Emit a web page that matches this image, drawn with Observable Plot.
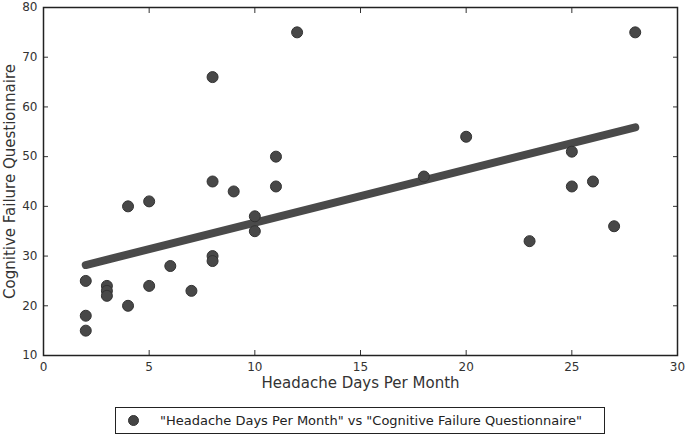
<!DOCTYPE html>
<html>
<head>
<meta charset="utf-8">
<script src="https://cdn.jsdelivr.net/npm/d3@7"></script>
<script src="https://cdn.jsdelivr.net/npm/@observablehq/plot@0.6"></script>
<style>
  html, body { margin: 0; padding: 0; background: #fff; }
  body { width: 685px; height: 440px; overflow: hidden; font-family: "DejaVu Sans", sans-serif; }
  #legend {
    position: absolute; left: 115px; top: 407px; width: 490px; height: 27px;
    border: 1.5px solid #222; box-sizing: border-box;
    display: flex; align-items: center; font-size: 13px; color: #222;
  }
  #legend .dot { width: 11px; height: 11px; border-radius: 50%; background: #444; border: 1px solid #333; margin-left: 12px; margin-right: 21px; box-sizing: border-box; }
</style>
</head>
<body>
<div id="chart"></div>
<div id="legend"><span class="dot"></span><span>"Headache Days Per Month" vs "Cognitive Failure Questionnaire"</span></div>
<script>
const headacheDays = [2, 2, 2, 3, 3, 3, 4, 4, 5, 5, 6, 7, 8, 8, 8, 8, 9, 10, 10, 11, 11, 12, 18, 20, 23, 25, 25, 26, 27, 28];
const cfqScores   = [25, 18, 15, 24, 23, 22, 40, 20, 41, 24, 28, 23, 66, 45, 30, 29, 43, 38, 35, 50, 44, 75, 46, 54, 33, 51, 44, 45, 36, 75];
const fitX = [2, 28];
const fitY = [28.2, 55.9];
const xTicks = [0, 5, 10, 15, 20, 25, 30];
const yTicks = [10, 20, 30, 40, 50, 60, 70, 80];

const points = headacheDays.map((d, i) => ({x: d, y: cfqScores[i]}));
const fit = fitX.map((d, i) => ({x: d, y: fitY[i]}));

const chart = Plot.plot({
  width: 685,
  height: 395,
  marginLeft: 43,
  marginRight: 8,
  marginTop: 7,
  marginBottom: 40,
  style: {fontFamily: "DejaVu Sans, sans-serif", fontSize: "12px", color: "#333", background: "#fff", overflow: "visible"},
  x: {domain: [0, 30]},
  y: {domain: [10, 80]},
  marks: [
    Plot.axisX(xTicks, {anchor: "bottom", tickSize: -5, tickPadding: 12, label: null, fontSize: 12, fill: "#333"}),
    Plot.axisX(xTicks, {anchor: "top", tickSize: -5, text: null, label: null}),
    Plot.axisY(yTicks, {anchor: "left", tickSize: -5, tickPadding: 11, label: null, fontSize: 12, fill: "#333"}),
    Plot.axisY(yTicks, {anchor: "right", tickSize: -5, text: null, label: null}),
    Plot.text(["Headache Days Per Month"], {frameAnchor: "bottom", dy: 32, fontSize: 15, fill: "#333"}),
    Plot.text(["Cognitive Failure Questionnaire"], {frameAnchor: "left", dx: -33, rotate: -90, textAnchor: "middle", fontSize: 15, fill: "#333"}),
    Plot.line(fit, {x: "x", y: "y", stroke: "#4a4a4a", strokeWidth: 8}),
    Plot.dot(points, {x: "x", y: "y", r: 5.5, fill: "#484848", stroke: "#333", strokeWidth: 1}),
    Plot.frame({stroke: "#222", strokeWidth: 1.5})
  ]
});
document.getElementById("chart").appendChild(chart);
</script>
</body>
</html>
